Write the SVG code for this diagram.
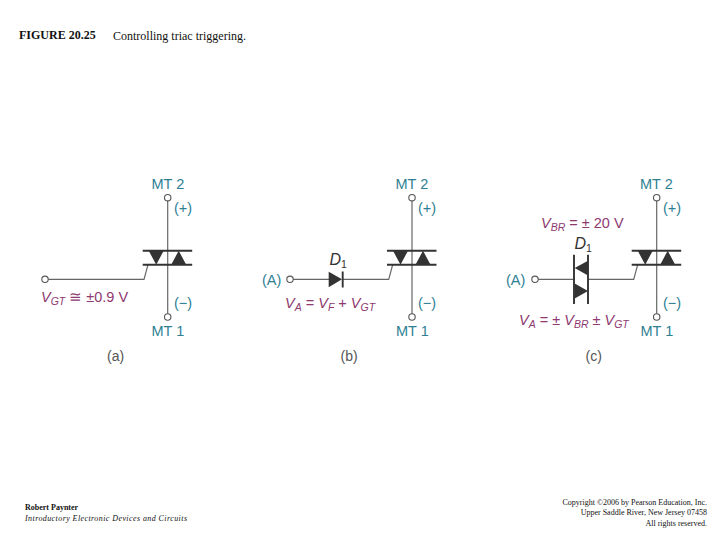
<svg xmlns="http://www.w3.org/2000/svg" width="720" height="540" viewBox="0 0 720 540">
<defs>
<style>
text{font-family:"Liberation Sans",Arial,sans-serif}
.cap{font-family:"Liberation Serif","Times New Roman",serif;fill:#111}
.t{font-size:14.500px;fill:#2f7f93}
.m{font-size:14.500px;fill:#8e3a70}
.k{font-size:14px;fill:#555}
.d{font-size:16px;font-style:italic;fill:#333}
.i{font-style:italic}
.s{font-size:10.500px;font-style:italic}
.w{fill:none;stroke:#666;stroke-width:1.200}
.b{fill:none;stroke:#333;stroke-width:1.900}
.o{fill:#fff;stroke:#555;stroke-width:1.100}
.f{fill:#333}
</style>
<g id="triac">
<path class="w" d="M0 3V116.300"/>
<path class="b" d="M-25 53H24.500M-25 67H24.500"/>
<path class="f" d="M-19 53H-4L-11.500 67ZM3.500 67H18.500L11 53Z"/>
<circle class="o" cx="0" cy="0" r="3.200"/>
<circle class="o" cx="0" cy="119.300" r="3.200"/>
</g>
</defs>
<rect width="720" height="540" fill="#fff"/>
<text class="cap" x="19" y="39" font-size="12" font-weight="bold">FIGURE 20.25</text>
<text class="cap" x="113" y="39.500" font-size="12">Controlling triac triggering.</text>
<text class="cap" x="25" y="510" font-size="8" font-weight="bold">Robert Paynter</text>
<text class="cap" x="25" y="521" font-size="8" font-style="italic" textLength="162">Introductory Electronic Devices and Circuits</text>
<g class="cap" font-size="8" text-anchor="end">
<text class="cap" x="707" y="505">Copyright ©2006 by Pearson Education, Inc.</text>
<text class="cap" x="707" y="515">Upper Saddle River, New Jersey 07458</text>
<text class="cap" x="707" y="526">All rights reserved.</text>
</g>
<g id="connectors">
<path class="w" d="M48 279.300H144L148 264.700"/>
<path class="w" d="M293 279.300H329M342 279.300H388.700L392.700 264.700"/>
<path class="w" d="M538 279.300H574M588 279.300H633.700L637.700 264.700"/>
</g>
<g id="circuit-a">
<use href="#triac" x="167.700" y="197.700"/>
<circle class="o" cx="45" cy="279.300" r="3.200"/>
<text class="t" x="151.500" y="188.500">MT 2</text>
<text class="t" x="174" y="213">(+)</text>
<text class="t" x="174" y="308">(−)</text>
<text class="t" x="151.500" y="336">MT 1</text>
<text class="m" x="41" y="302"><tspan class="i">V</tspan><tspan class="s" dy="3">GT</tspan><tspan dy="-3"> ≅ ±0.9 V</tspan></text>
<text class="k" x="107" y="361">(a)</text>
</g>
<g id="circuit-b">
<use href="#triac" x="412" y="197.700"/>
<circle class="o" cx="290" cy="279.300" r="3.200"/>
<path class="f" d="M328.700 271.700L342 279.300L328.700 287.300Z"/>
<path class="b" d="M342.700 271.500V287.500"/>
<text class="d" x="329.500" y="264.500">D<tspan font-size="10.500" dy="3" font-style="normal">1</tspan></text>
<text class="t" x="262" y="284.500">(A)</text>
<text class="t" x="395.500" y="188.500">MT 2</text>
<text class="t" x="418" y="213">(+)</text>
<text class="t" x="418" y="308">(−)</text>
<text class="t" x="396" y="336">MT 1</text>
<text class="m" x="285" y="308"><tspan class="i">V</tspan><tspan class="s" dy="3">A</tspan><tspan dy="-3"> = </tspan><tspan class="i">V</tspan><tspan class="s" dy="3">F</tspan><tspan dy="-3"> + </tspan><tspan class="i">V</tspan><tspan class="s" dy="3">GT</tspan></text>
<text class="k" x="340.500" y="361">(b)</text>
</g>
<g id="circuit-c">
<use href="#triac" x="656.700" y="197.700"/>
<circle class="o" cx="535" cy="279.300" r="3.200"/>
<path class="b" d="M574 254.700V304M588 254.700V304"/>
<path class="f" d="M588 260.700V275.500L574.700 268ZM574.700 283.500V298.500L588 291Z"/>
<text class="d" x="574.500" y="248.500">D<tspan font-size="10.500" dy="3" font-style="normal">1</tspan></text>
<text class="t" x="506" y="284.500">(A)</text>
<text class="t" x="640" y="188.500">MT 2</text>
<text class="t" x="663" y="213">(+)</text>
<text class="t" x="663" y="308">(−)</text>
<text class="t" x="640.500" y="336">MT 1</text>
<text class="m" x="541" y="227.500"><tspan class="i">V</tspan><tspan class="s" dy="3">BR</tspan><tspan dy="-3"> = ± 20 V</tspan></text>
<text class="m" x="519" y="325"><tspan class="i">V</tspan><tspan class="s" dy="3">A</tspan><tspan dy="-3"> = ± </tspan><tspan class="i">V</tspan><tspan class="s" dy="3">BR</tspan><tspan dy="-3"> ± </tspan><tspan class="i">V</tspan><tspan class="s" dy="3">GT</tspan></text>
<text class="k" x="585.500" y="361">(c)</text>
</g>
</svg>
